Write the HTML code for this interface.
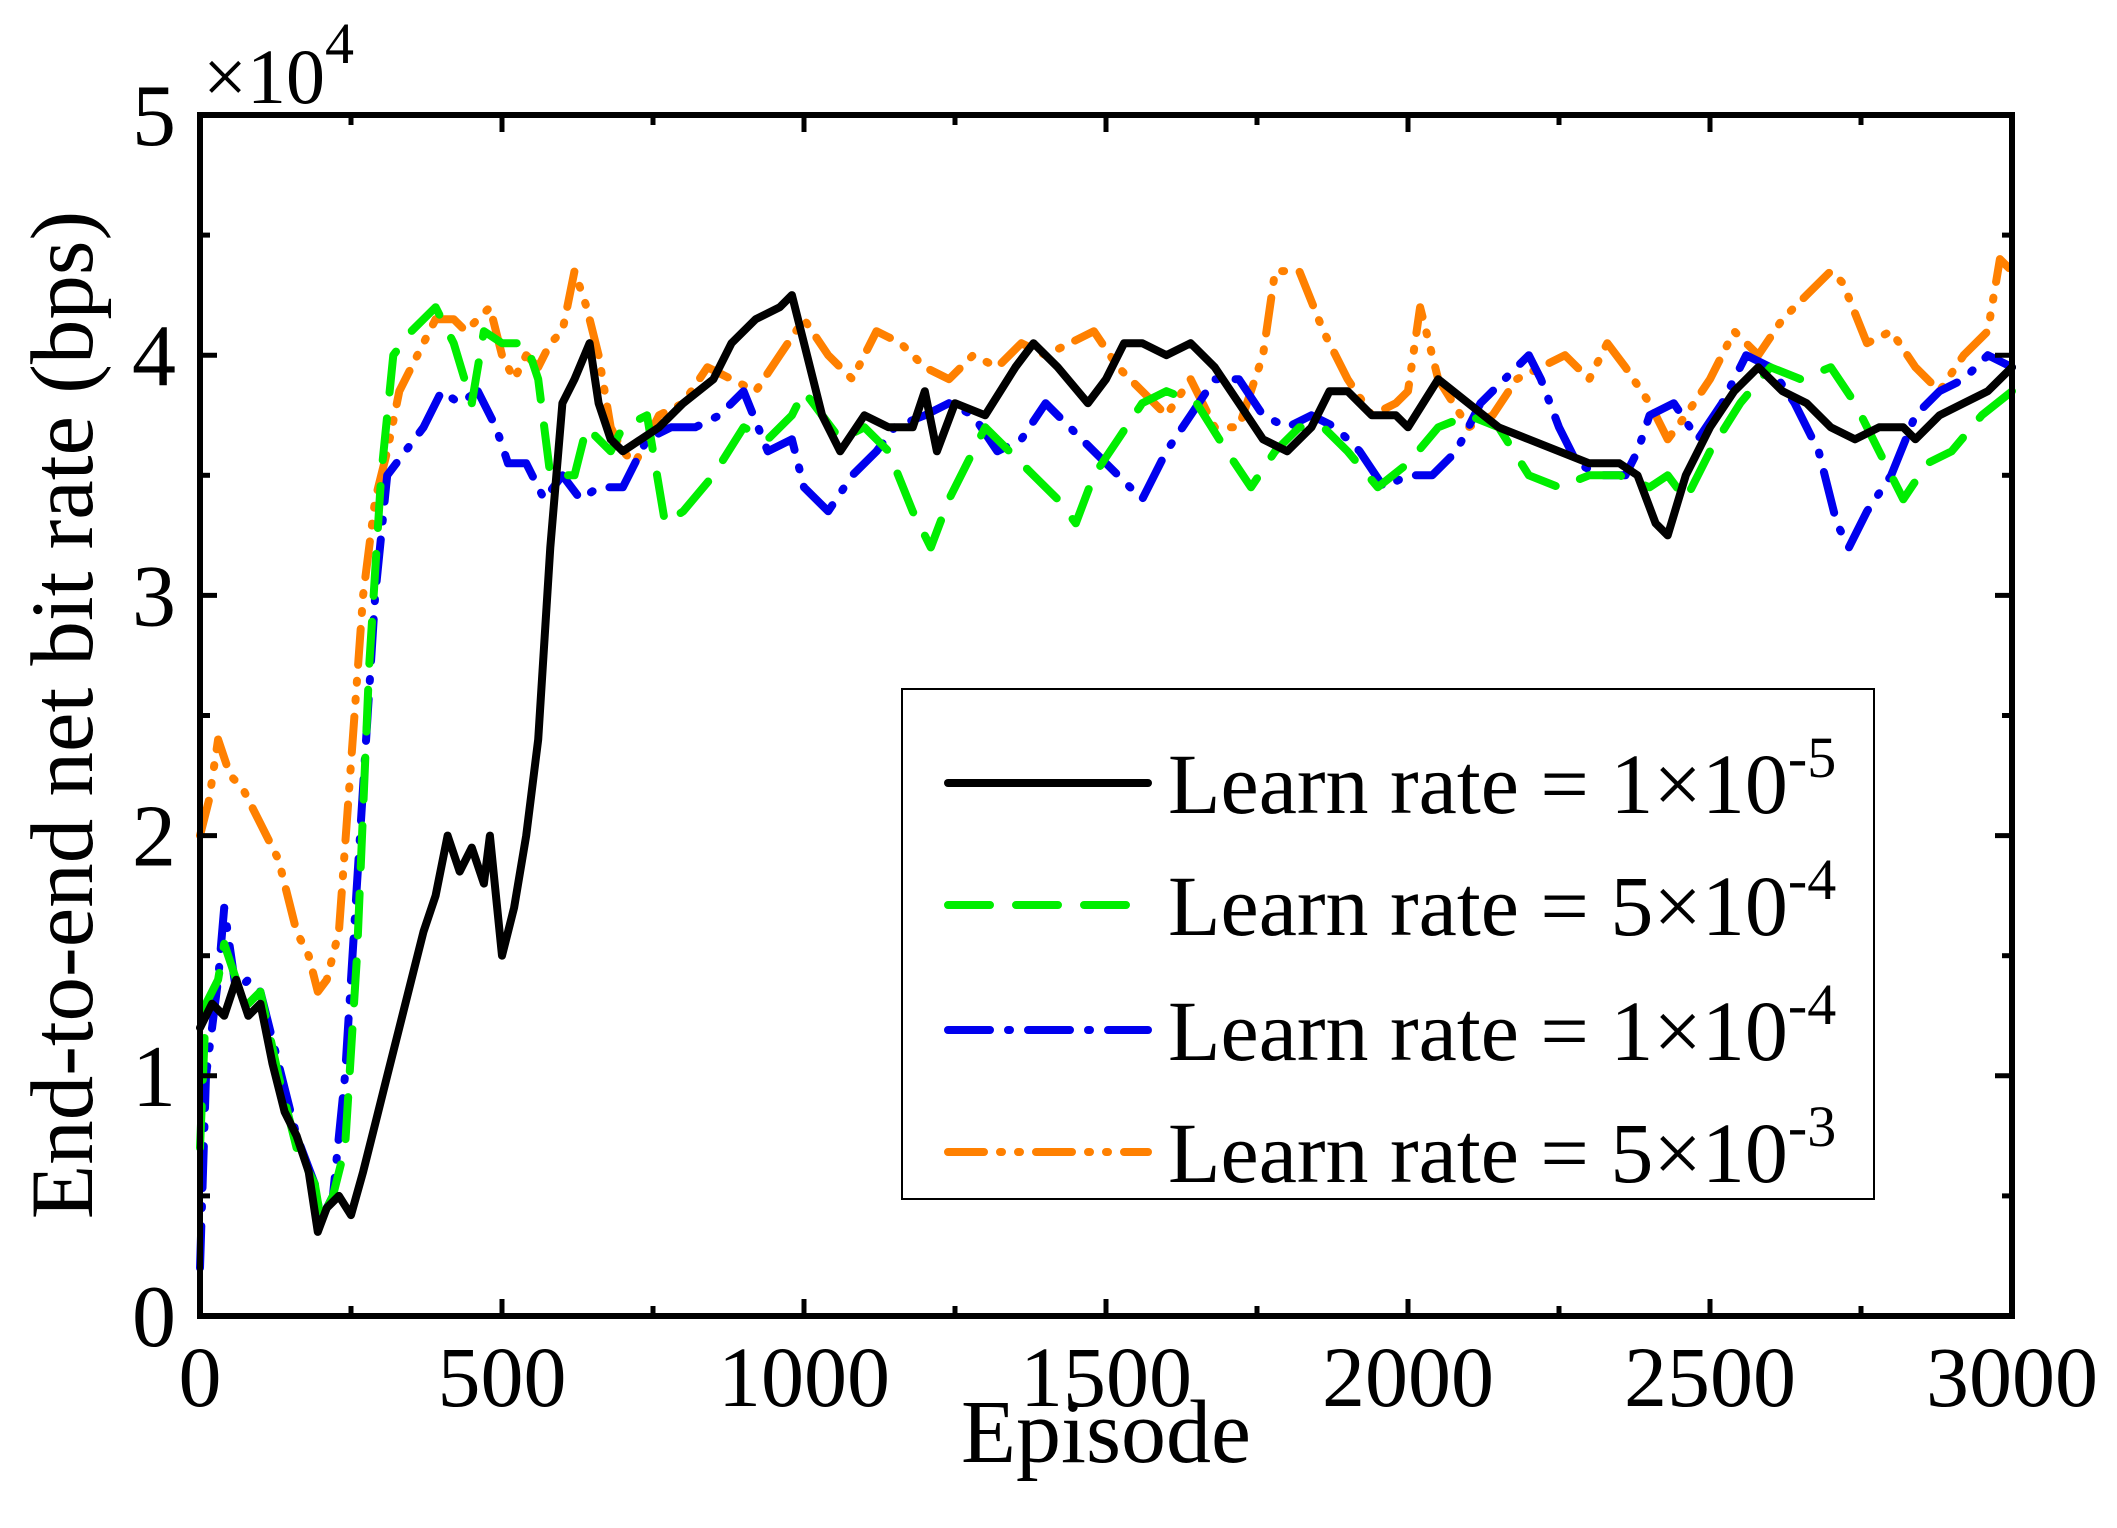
<!DOCTYPE html>
<html><head><meta charset="utf-8">
<style>
html,body{margin:0;padding:0;background:#fff;}
svg{display:block;font-family:"Liberation Serif",serif;}
</style></head>
<body>
<svg id="chart" width="2117" height="1528" viewBox="0 0 2117 1528" xmlns="http://www.w3.org/2000/svg">
<rect width="2117" height="1528" fill="#fff"/>
<g id="series"></g>
<g id="axes"></g>
<rect x="200" y="115" width="1812" height="1201" fill="none" stroke="#000" stroke-width="6"/>
<text x="203" y="103" font-size="78">×10<tspan dy="-40" font-size="58">4</tspan></text>
<text x="1106" y="1462" font-size="90" text-anchor="middle">Episode</text>
<text transform="translate(92,715) rotate(-90)" font-size="89" text-anchor="middle">End-to-end net bit rate (bps)</text>
<g>
<rect x="902" y="689" width="972" height="510" fill="#fff" stroke="#000" stroke-width="2"/>
<g id="legend-items"></g>
</g>
</svg>
<script>
const xTicks = [0,500,1000,1500,2000,2500,3000];
const yTicks = [0,1,2,3,4,5];
const seriesNames = ["Learn rate = 1×10","Learn rate = 5×10","Learn rate = 1×10","Learn rate = 5×10"];
const seriesExp = ["-5","-4","-4","-3"];
const blackX = [0,20,40,60,80,100,120,140,160,180,195,210,230,250,270,290,310,330,350,370,390,410,430,450,470,480,500,520,540,560,580,600,620,645,660,680,700,730,760,800,850,880,920,960,980,1000,1030,1060,1100,1140,1180,1200,1220,1250,1300,1350,1380,1420,1470,1500,1530,1560,1600,1640,1680,1720,1760,1800,1840,1870,1900,1940,1980,2000,2050,2100,2150,2200,2250,2300,2350,2380,2410,2430,2460,2500,2540,2580,2620,2660,2700,2740,2780,2820,2840,2880,2920,2960,3000];
const blackY = [1.2,1.3,1.25,1.4,1.25,1.3,1.05,0.85,0.75,0.6,0.35,0.45,0.5,0.42,0.6,0.8,1.0,1.2,1.4,1.6,1.75,2.0,1.85,1.95,1.8,2.0,1.5,1.7,2.0,2.4,3.2,3.8,3.9,4.05,3.8,3.65,3.6,3.65,3.7,3.8,3.9,4.05,4.15,4.2,4.25,4.05,3.75,3.6,3.75,3.7,3.7,3.85,3.6,3.8,3.75,3.95,4.05,3.95,3.8,3.9,4.05,4.05,4.0,4.05,3.95,3.8,3.65,3.6,3.7,3.85,3.85,3.75,3.75,3.7,3.9,3.8,3.7,3.65,3.6,3.55,3.55,3.5,3.3,3.25,3.5,3.7,3.85,3.95,3.85,3.8,3.7,3.65,3.7,3.7,3.65,3.75,3.8,3.85,3.95];
const greenX = [0,10,30,40,60,80,100,130,160,190,200,220,240,260,280,300,320,350,390,420,450,470,500,540,560,580,620,640,680,700,740,770,800,850,900,940,980,1000,1030,1060,1100,1140,1180,1210,1240,1270,1300,1340,1380,1420,1450,1480,1520,1560,1600,1650,1700,1740,1780,1820,1860,1900,1950,2000,2050,2100,2150,2200,2250,2300,2350,2400,2430,2460,2500,2550,2600,2650,2700,2740,2780,2820,2860,2900,2950,3000];
const greenY = [0.7,1.3,1.4,1.55,1.4,1.3,1.35,1.0,0.7,0.55,0.4,0.5,0.7,1.5,2.7,3.5,4.0,4.1,4.2,4.05,3.8,4.1,4.05,4.05,3.9,3.5,3.5,3.7,3.6,3.7,3.75,3.3,3.35,3.5,3.7,3.65,3.75,3.85,3.75,3.65,3.7,3.6,3.35,3.2,3.4,3.55,3.7,3.6,3.5,3.4,3.3,3.5,3.65,3.8,3.85,3.8,3.6,3.45,3.6,3.7,3.7,3.6,3.45,3.55,3.7,3.75,3.7,3.5,3.45,3.5,3.5,3.45,3.5,3.4,3.6,3.8,3.95,3.9,3.95,3.8,3.6,3.4,3.55,3.6,3.75,3.85];
const blueX = [0,10,30,40,60,80,100,130,160,190,200,220,240,260,290,310,340,370,400,430,460,490,510,540,570,600,630,660,700,740,780,820,860,900,940,980,1000,1040,1080,1120,1150,1200,1240,1280,1320,1360,1400,1440,1480,1520,1560,1600,1640,1680,1720,1760,1800,1840,1880,1920,1960,2000,2040,2080,2120,2160,2200,2220,2250,2280,2320,2360,2380,2400,2440,2480,2520,2560,2600,2640,2680,2710,2730,2760,2800,2840,2880,2920,2960,3000];
const blueY = [0.2,1.0,1.4,1.7,1.35,1.4,1.35,1.05,0.75,0.55,0.4,0.5,1.0,1.8,3.0,3.5,3.6,3.7,3.85,3.8,3.85,3.7,3.55,3.55,3.4,3.5,3.4,3.45,3.45,3.65,3.7,3.7,3.75,3.85,3.6,3.65,3.45,3.35,3.5,3.6,3.7,3.75,3.8,3.75,3.6,3.65,3.8,3.7,3.6,3.5,3.4,3.6,3.75,3.9,3.9,3.75,3.7,3.75,3.7,3.6,3.45,3.5,3.5,3.6,3.8,3.9,4.0,3.9,3.7,3.55,3.5,3.5,3.6,3.75,3.8,3.65,3.8,4.0,3.95,3.8,3.6,3.3,3.2,3.35,3.5,3.75,3.85,3.9,4.0,3.95];
const orangeX = [0,15,30,50,70,100,130,160,180,195,210,230,250,270,290,310,330,360,390,420,440,460,480,500,520,540,560,580,600,620,640,660,680,700,720,760,800,840,880,920,960,1000,1040,1080,1120,1160,1200,1240,1280,1320,1360,1400,1440,1480,1520,1560,1600,1640,1680,1720,1760,1780,1820,1860,1900,1940,1980,2000,2020,2050,2100,2140,2180,2220,2260,2300,2330,2360,2400,2430,2460,2500,2540,2580,2620,2660,2700,2720,2760,2800,2840,2880,2920,2960,2980,3000];
const orangeY = [2.0,2.15,2.4,2.25,2.2,2.05,1.9,1.6,1.5,1.35,1.4,1.6,2.3,3.0,3.4,3.6,3.85,4.0,4.15,4.15,4.1,4.15,4.2,4.0,3.9,4.0,3.95,4.05,4.1,4.35,4.2,4.0,3.7,3.6,3.55,3.75,3.8,3.95,3.9,3.85,4.0,4.15,4.0,3.9,4.1,4.05,3.95,3.9,4.0,3.95,4.05,4.0,4.05,4.1,3.95,3.85,3.75,3.9,3.7,3.7,4.0,4.35,4.35,4.1,3.9,3.75,3.8,3.85,4.2,3.9,3.7,3.75,3.9,3.95,4.0,3.9,4.05,3.95,3.8,3.65,3.75,3.9,4.1,4.0,4.15,4.25,4.35,4.3,4.05,4.1,3.95,3.85,4.0,4.1,4.4,4.35];

const X0=200,X1=2012,Y0=1316,Y1=115;
function xs(v){return X0+(v-0)/3000*(X1-X0);}
function ys(v){return Y0-(v/5)*(Y0-Y1);}
const NS="http://www.w3.org/2000/svg";
function mk(tag,attrs,parent){const e=document.createElementNS(NS,tag);for(const k in attrs)e.setAttribute(k,attrs[k]);parent.appendChild(e);return e;}

const axes=document.getElementById('axes');
for(let v=0;v<=3000;v+=250){
  const major=v%500===0, L=major?17:10, x=xs(v);
  const t1=mk('line',{x1:x,y1:Y0,x2:x,y2:Y0-L,stroke:'#000','stroke-width':5},axes);
  
  
  const t2=mk('line',{x1:x,y1:Y1,x2:x,y2:Y1+L,stroke:'#000','stroke-width':5},axes);
  
  
}
xTicks.forEach(v=>{
  const t=mk('text',{x:xs(v),y:1406,'font-size':86,'text-anchor':'middle'},axes);
  t.textContent=v;
  
  
});
for(let v=0;v<=5;v+=0.5){
  const major=Math.abs(v-Math.round(v))<1e-9, L=major?17:10, y=ys(v);
  const t1=mk('line',{x1:X0,y1:y,x2:X0+L,y2:y,stroke:'#000','stroke-width':5},axes);
  
  
  const t2=mk('line',{x1:X1,y1:y,x2:X1-L,y2:y,stroke:'#000','stroke-width':5},axes);
  
  
}
yTicks.forEach(v=>{
  const t=mk('text',{x:176,y:ys(v)+30,'font-size':88,'text-anchor':'end'},axes);
  t.textContent=v;
  
  
});

const styles=[
  {c:'#000000',w:8,d:''},
  {c:'#00ee00',w:8,d:'42 26'},
  {c:'#0000ee',w:8,d:'42 18 2 18'},
  {c:'#ff8000',w:8,d:'36 16 2 16 2 16'}
];
const data=[[blackX,blackY],[greenX,greenY],[blueX,blueY],[orangeX,orangeY]];
const names=['series-lr-1e-5','series-lr-5e-4','series-lr-1e-4','series-lr-5e-3'];
const sg=document.getElementById('series');
[3,2,1,0].forEach(i=>{
  const [dx,dy]=data[i];
  const pts=dx.map((x,k)=>xs(x).toFixed(1)+','+ys(dy[k]).toFixed(1)).join(' ');
  const p=mk('polyline',{points:pts,fill:'none',stroke:styles[i].c,'stroke-width':styles[i].w,'stroke-dasharray':styles[i].d,'stroke-linejoin':'round','stroke-linecap':'round'},sg);
  
  
});

const lg=document.getElementById('legend-items');
const ly=[783,905,1030,1152];
seriesNames.forEach((n,i)=>{
  const l=mk('line',{x1:948,y1:ly[i],x2:1148,y2:ly[i],stroke:styles[i].c,'stroke-width':styles[i].w,'stroke-dasharray':styles[i].d,'stroke-linecap':'round'},lg);
  
  
  const t=mk('text',{x:1168,y:ly[i]+30,'font-size':86},lg);
  t.textContent=n;
  const s=mk('tspan',{dy:-36,'font-size':58},t);
  s.textContent=seriesExp[i];
  
  
});
</script>
</body></html>
